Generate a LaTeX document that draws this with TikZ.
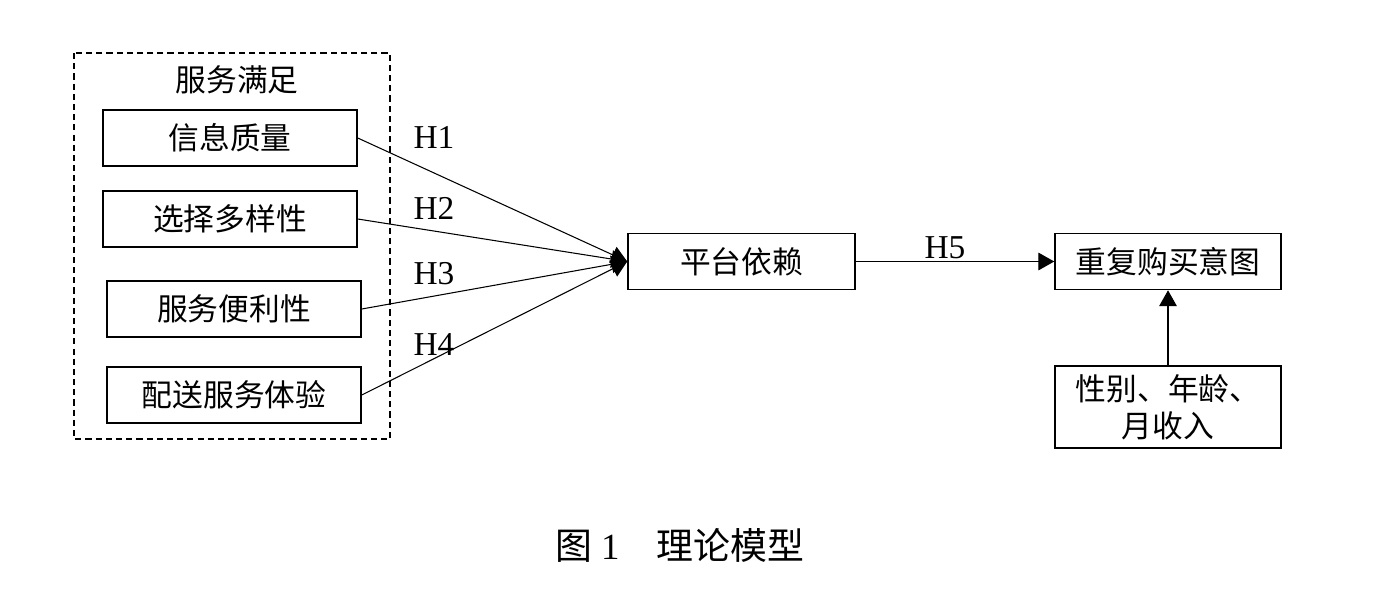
\documentclass[tikz,border=0pt]{standalone}
\usepackage{fontspec}
\setmainfont{Liberation Serif}
\newfontfamily\cjk{Noto Sans CJK SC}
\usetikzlibrary{arrows.meta,positioning}

\tikzset{
  box/.style={draw,line width=0.9pt,minimum width=5.08cm,minimum height=1.12cm,inner sep=0pt,font=\cjk\fontsize{17.5}{21}\selectfont},
  hyp/.style={font=\fontsize{19}{22}\selectfont},
  link/.style={line width=0.6pt,-{Triangle[length=9pt,width=10pt]}}
}

\begin{document}
\begin{tikzpicture}[x=0.02cm,y=-0.02cm]

    % Canvas
    \useasboundingbox (0,0) rectangle (1395,613);

    % Service satisfaction group
    \draw[line width=1.1pt,dash pattern=on 3.5pt off 2.3pt] (74,53) rectangle (390,439);
    \node[font=\cjk\fontsize{17.5}{21}\selectfont] (grp) at (237,80) {服务满足};

    % Dimension boxes
    \node[box] (info) at (230,138) {信息质量};
    \node[box] (choice) at (230,219) {选择多样性};
    \node[box] (conv) at (234,309) {服务便利性};
    \node[box] (deliv) at (234,395) {配送服务体验};

    % Platform dependence and outcome
    \node[box,minimum width=4.54cm] (plat) at (741.5,261.5) {平台依赖};
    \node[box,minimum width=4.52cm] (rep) at (1168,261.5) {重复购买意图};
    \node[box,minimum width=4.52cm,minimum height=1.64cm,align=center] (ctrl) at (1168,407) {性别、年龄、\\月收入};

    % Hypothesis paths
    \draw[link] (info.east) -- (plat.west);
    \draw[link] (choice.east) -- (plat.west);
    \draw[link] (conv.east) -- (plat.west);
    \draw[link] (deliv.east) -- (plat.west);
    \draw[link] (plat.east) -- (rep.west);
    \draw[link] (ctrl.north) -- (rep.south);

    % Path labels
    \node[hyp] (h1) at (434,137) {H1};
    \node[hyp] (h2) at (434,208) {H2};
    \node[hyp] (h3) at (434,274) {H3};
    \node[hyp] (h4) at (434,345) {H4};
    \node[hyp] (h5) at (945,248) {H5};

    % Caption
    \node[font=\cjk\fontsize{21}{24}\selectfont] (cap) at (680,545) {图 {\rmfamily 1}\quad 理论模型};

\end{tikzpicture}
\end{document}
